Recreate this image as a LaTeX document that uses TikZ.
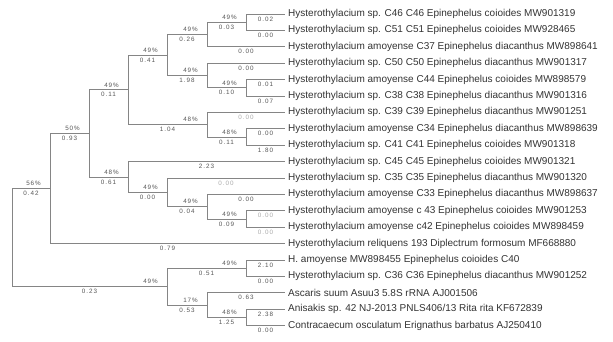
\documentclass[tikz,border=0pt]{standalone}
\usepackage{fontspec}
\setmainfont{Liberation Sans}
\newfontfamily\smallfont[LetterSpace=15]{Liberation Sans}
\usetikzlibrary{calc}
\definecolor{linec}{HTML}{858585}
\definecolor{txtc}{HTML}{333333}
\definecolor{labc}{HTML}{555555}
\definecolor{lightc}{HTML}{AAAAAA}
\tikzset{
  br/.style={draw=linec, line width=0.8bp},
  boot/.style={font=\smallfont\fontsize{6.3bp}{7bp}\selectfont, text=labc, inner sep=0pt, anchor=south east, yshift=2.5bp},
  blen/.style={font=\smallfont\fontsize{6.3bp}{7bp}\selectfont, text=labc, inner sep=0pt, anchor=north, yshift=-2.5bp},
  leaf/.style={font=\fontsize{10bp}{12bp}\selectfont, text=txtc, inner sep=0pt, anchor=west},
}
\newcommand{\tedge}[4]{%
  \draw[br] (#1) |- (#2);
  \node[blen, text=#4] at ($(#1 |- #2)!0.5!(#2)$) {#3};}
\newcommand{\tboot}[2]{%
  \node[boot] at ([xshift=-9bp]#1) {#2};}
\begin{document}
\begin{tikzpicture}[x=1bp,y=-1bp]
\useasboundingbox (0,0) rectangle (613,341);
% leaves
\def\lx{285}
\coordinate (L1) at (\lx,14);
\coordinate (L2) at (\lx,30.4);
\coordinate (L3) at (\lx,46.8);
\coordinate (L4) at (\lx,63.2);
\coordinate (L5) at (\lx,79.6);
\coordinate (L6) at (\lx,96);
\coordinate (L7) at (\lx,112.4);
\coordinate (L8) at (\lx,128.8);
\coordinate (L9) at (\lx,145.2);
\coordinate (L10) at (\lx,161.6);
\coordinate (L11) at (\lx,178);
\coordinate (L12) at (\lx,194.4);
\coordinate (L13) at (\lx,210.8);
\coordinate (L14) at (\lx,227.2);
\coordinate (L15) at (\lx,243.6);
\coordinate (L16) at (\lx,260);
\coordinate (L17) at (\lx,276.4);
\coordinate (L18) at (\lx,292.8);
\coordinate (L19) at (\lx,309.2);
\coordinate (L20) at (\lx,325.6);
% internal nodes
\coordinate (n1) at (246,22.2);
\coordinate (n2) at (207,34.5);
\coordinate (n3) at (246,87.8);
\coordinate (n4) at (207,75.5);
\coordinate (nA) at (167,55);
\coordinate (n5) at (246,137);
\coordinate (n6) at (207,124.7);
\coordinate (nB) at (128,89.85);
\coordinate (n7) at (246,219);
\coordinate (n8) at (207,206.7);
\coordinate (n9) at (167,192.35);
\coordinate (n10) at (128,176.97);
\coordinate (n11) at (89,133.4);
\coordinate (n12) at (50,188.5);
\coordinate (n13) at (246,268.2);
\coordinate (n14) at (246,317.4);
\coordinate (n15) at (207,305.1);
\coordinate (n16) at (167,286.65);
\coordinate (root) at (12,237.6);
% edges
\tedge{n1}{L1}{0.02}{labc}
\tedge{n1}{L2}{0.00}{labc}
\tedge{n2}{n1}{0.03}{labc} \tboot{n1}{49\%}
\tedge{n2}{L3}{0.00}{labc}
\tedge{nA}{n2}{0.26}{labc} \tboot{n2}{49\%}
\tedge{n3}{L5}{0.01}{labc}
\tedge{n3}{L6}{0.07}{labc}
\tedge{n4}{L4}{0.00}{labc}
\tedge{n4}{n3}{0.10}{labc} \tboot{n3}{49\%}
\tedge{nA}{n4}{1.98}{labc} \tboot{n4}{49\%}
\tedge{nB}{nA}{0.41}{labc} \tboot{nA}{49\%}
\tedge{n5}{L8}{0.00}{labc}
\tedge{n5}{L9}{1.80}{labc}
\tedge{n6}{L7}{0.00}{lightc}
\tedge{n6}{n5}{0.11}{labc} \tboot{n5}{48\%}
\tedge{nB}{n6}{1.04}{labc} \tboot{n6}{48\%}
\tedge{n11}{nB}{0.11}{labc} \tboot{nB}{49\%}
\tedge{n7}{L13}{0.00}{lightc}
\tedge{n7}{L14}{0.00}{lightc}
\tedge{n8}{L12}{0.00}{labc}
\tedge{n8}{n7}{0.09}{labc} \tboot{n7}{49\%}
\tedge{n9}{L11}{0.00}{lightc}
\tedge{n9}{n8}{0.04}{labc} \tboot{n8}{49\%}
\tedge{n10}{L10}{2.23}{labc}
\tedge{n10}{n9}{0.00}{labc} \tboot{n9}{49\%}
\tedge{n11}{n10}{0.61}{labc} \tboot{n10}{48\%}
\tedge{n12}{n11}{0.93}{labc} \tboot{n11}{50\%}
\tedge{n12}{L15}{0.79}{labc}
\tedge{root}{n12}{0.42}{labc} \tboot{n12}{56\%}
\tedge{n13}{L16}{2.10}{labc}
\tedge{n13}{L17}{0.00}{labc}
\tedge{n14}{L19}{2.38}{labc}
\tedge{n14}{L20}{0.00}{labc}
\tedge{n15}{L18}{0.63}{labc}
\tedge{n15}{n14}{1.25}{labc} \tboot{n14}{48\%}
\tedge{n16}{n13}{0.51}{labc} \tboot{n13}{49\%}
\tedge{n16}{n15}{0.53}{labc} \tboot{n15}{17\%}
\tedge{root}{n16}{0.23}{labc} \tboot{n16}{49\%}
% leaf labels
\node[leaf] (t1) at ([xshift=3bp]L1) {Hysterothylacium sp. C46 C46 Epinephelus coioides MW901319};
\node[leaf] (t2) at ([xshift=3bp]L2) {Hysterothylacium sp. C51 C51 Epinephelus coioides MW928465};
\node[leaf] (t3) at ([xshift=3bp]L3) {Hysterothylacium amoyense C37 Epinephelus diacanthus MW898641};
\node[leaf] (t4) at ([xshift=3bp]L4) {Hysterothylacium sp. C50 C50 Epinephelus diacanthus MW901317};
\node[leaf] (t5) at ([xshift=3bp]L5) {Hysterothylacium amoyense C44 Epinephelus coioides MW898579};
\node[leaf] (t6) at ([xshift=3bp]L6) {Hysterothylacium sp. C38 C38 Epinephelus diacanthus MW901316};
\node[leaf] (t7) at ([xshift=3bp]L7) {Hysterothylacium sp. C39 C39 Epinephelus diacanthus MW901251};
\node[leaf] (t8) at ([xshift=3bp]L8) {Hysterothylacium amoyense C34 Epinephelus diacanthus MW898639};
\node[leaf] (t9) at ([xshift=3bp]L9) {Hysterothylacium sp. C41 C41 Epinephelus coioides MW901318};
\node[leaf] (t10) at ([xshift=3bp]L10) {Hysterothylacium sp. C45 C45 Epinephelus coioides MW901321};
\node[leaf] (t11) at ([xshift=3bp]L11) {Hysterothylacium sp. C35 C35 Epinephelus diacanthus MW901320};
\node[leaf] (t12) at ([xshift=3bp]L12) {Hysterothylacium amoyense C33 Epinephelus diacanthus MW898637};
\node[leaf] (t13) at ([xshift=3bp]L13) {Hysterothylacium amoyense c 43 Epinephelus coioides MW901253};
\node[leaf] (t14) at ([xshift=3bp]L14) {Hysterothylacium amoyense c42 Epinephelus coioides MW898459};
\node[leaf] (t15) at ([xshift=3bp]L15) {Hysterothylacium reliquens 193 Diplectrum formosum MF668880};
\node[leaf] (t16) at ([xshift=3bp]L16) {H. amoyense MW898455 Epinephelus coioides C40};
\node[leaf] (t17) at ([xshift=3bp]L17) {Hysterothylacium sp. C36 C36 Epinephelus diacanthus MW901252};
\node[leaf] (t18) at ([xshift=3bp]L18) {Ascaris suum Asuu3 5.8S rRNA AJ001506};
\node[leaf] (t19) at ([xshift=3bp]L19) {Anisakis sp. 42 NJ-2013 PNLS406/13 Rita rita KF672839};
\node[leaf] (t20) at ([xshift=3bp]L20) {Contracaecum osculatum Erignathus barbatus AJ250410};
\end{tikzpicture}
\end{document}
